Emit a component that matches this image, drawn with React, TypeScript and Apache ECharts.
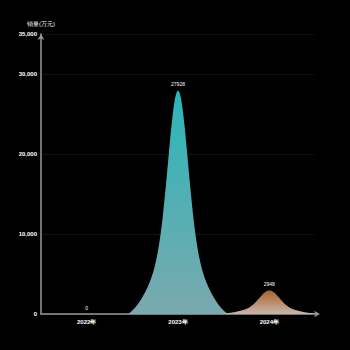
import React, { useEffect, useRef } from "react";
import * as echarts from "echarts";

const categories = ["2022年", "2023年", "2024年"];
const sales = [0, 27928, 2948];
const topColors = ["#2ab6b9", "#2ab6b9", "#a9622d"];
const bottomColors = ["#7aa9ae", "#7aa9ae", "#c9b6aa"];

function mountainPath(): string {
  // bell-shaped symbol outline (rounded top, soft tails) in a 100x100 box
  const s1 = 9.5;
  const s2 = 24;
  const pts: string[] = [];
  for (let i = 0; i <= 100; i += 1) {
    const d = Math.abs(i - 50);
    const g =
      0.7 * Math.exp(-(d * d) / (2 * s1 * s1)) +
      0.3 * Math.exp(-(d * d) / (2 * s2 * s2));
    const w = 1 - Math.pow(d / 50, 4);
    pts.push(`${i},${(100 - 100 * g * w).toFixed(3)}`);
  }
  return "path://M0,100 L" + pts.join(" L") + " L100,100 Z";
}

export default function App() {
  const ref = useRef<HTMLDivElement>(null);
  useEffect(() => {
    if (!ref.current) return;
    const chart = echarts.init(ref.current, null, { renderer: "svg" });
    const path = mountainPath();
    chart.setOption({
      animation: false,
      backgroundColor: "#000",
      grid: { left: 41, right: 35, top: 34, bottom: 36 },
      xAxis: {
        type: "category",
        data: categories,
        axisTick: { show: false },
        axisLine: {
          lineStyle: { color: "#999", width: 1.5 },
          symbol: ["none", "arrow"],
          symbolSize: [5, 6],
          symbolOffset: [0, 5],
        },
        axisLabel: { color: "#fff", fontSize: 6, fontWeight: "bold", margin: 5 },
      },
      yAxis: {
        type: "value",
        name: "销量(万元)",
        nameGap: 7,
        nameTextStyle: { color: "#fff", fontSize: 6, align: "center" },
        min: 0,
        max: 35000,
        interval: 10000,
        axisTick: { show: false },
        axisLine: {
          show: true,
          lineStyle: { color: "#999", width: 1.5 },
          symbol: ["none", "arrow"],
          symbolSize: [5, 6],
        },
        axisLabel: { color: "#fff", fontSize: 6, fontWeight: "bold", margin: 4 },
        splitLine: {
          lineStyle: { color: "rgba(60,95,105,0.4)", type: "dotted", width: 1 },
        },
      },
      series: [
        {
          type: "pictorialBar",
          barCategoryGap: "-10%",
          symbol: path,
          label: {
            show: true,
            position: "top",
            distance: 4,
            color: "#fff",
            fontSize: 5,
          },
          data: sales.map((v, i) => ({
            value: v,
            itemStyle: {
              color: new echarts.graphic.LinearGradient(0, 0, 0, 1, [
                { offset: 0, color: topColors[i] },
                { offset: 1, color: bottomColors[i] },
              ]),
            },
          })),
        },
      ],
    });
    return () => chart.dispose();
  }, []);
  return (
    <div
      ref={ref}
      style={{ position: "fixed", left: 0, top: 0, width: 350, height: 350 }}
    />
  );
}
